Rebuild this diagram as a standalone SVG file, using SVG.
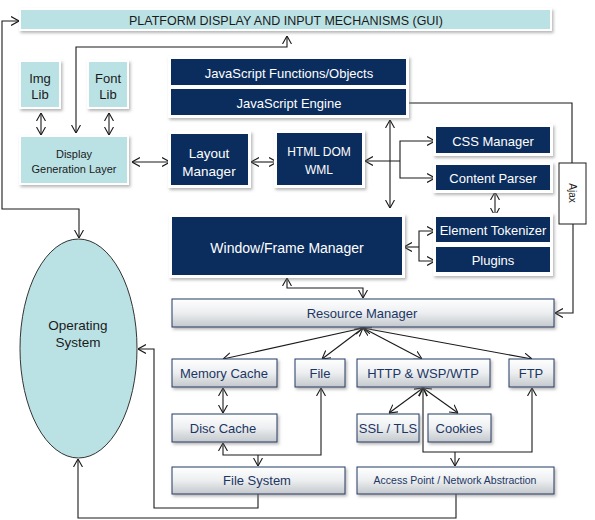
<svg xmlns="http://www.w3.org/2000/svg" width="595" height="520" viewBox="0 0 595 520">
<style>
.t{font-family:"Liberation Sans",Arial,sans-serif;text-anchor:middle;dominant-baseline:central}
.w{fill:#ffffff}
.k{fill:#1a1a1a}
.n{fill:#1c3664}
.frame{fill:#ffffff;filter:url(#sh)}
.dark{fill:#0b2d5e}
.teal{fill:#bae2e5}
.grey{fill:url(#gg);stroke:#1f3a66;stroke-width:1;filter:url(#sh)}
.c{fill:none;stroke:#1a1a1a;stroke-width:1.1}
.ab{marker-start:url(#a);marker-end:url(#a)}
.ae{marker-end:url(#a)}
.as{marker-start:url(#a)}
</style>
<defs>
<filter id="sh" x="-20%" y="-20%" width="140%" height="150%">
<feDropShadow dx="1.5" dy="2" stdDeviation="1.5" flood-color="#7a7a7a" flood-opacity="0.55"/>
</filter>
<linearGradient id="gg" x1="0" y1="0" x2="0" y2="1">
<stop offset="0" stop-color="#ffffff"/>
<stop offset="0.5" stop-color="#eceef0"/>
<stop offset="1" stop-color="#c4c8cc"/>
</linearGradient>
<marker id="a" viewBox="0 0 8 10" refX="8" refY="5" markerWidth="8" markerHeight="10" markerUnits="userSpaceOnUse" orient="auto-start-reverse">
<path d="M0,0.5 L8,5 L0,9.5" fill="none" stroke="#1a1a1a" stroke-width="1.1"/>
</marker>
</defs>
<rect width="595" height="520" fill="#ffffff"/>

<g id="connectors">
<path class="c ab" d="M19,21 H2 V209 H79 V238"/>
<path class="c ab" d="M76,133 V47 H287 V36"/>
<path class="c ab" d="M41,113 V135"/>
<path class="c ab" d="M109,113 V135"/>
<path class="c ab" d="M132,162 H170"/>
<path class="c ab" d="M251,162 H277"/>
<path class="c ab" d="M390,120 V208"/>
<path class="c as" d="M365,161 H400"/>
<path class="c ab" d="M435,141 H400 V178 H435"/>
<path class="c" d="M408,103 H572 V163"/>
<path class="c ae" d="M573,224 V313 H555"/>
<path class="c ab" d="M495,192 V216"/>
<path class="c as" d="M404,247 H419"/>
<path class="c ab" d="M435,231 H419 V261 H435"/>
<path class="c ab" d="M287,278 V288 H363 V298"/>
<path class="c ab" d="M363,328 L223,359"/>
<path class="c ab" d="M363,328 L322,359"/>
<path class="c ab" d="M363,328 L422,359"/>
<path class="c ab" d="M363,328 L532,359"/>
<path class="c ab" d="M223,388 V413"/>
<path class="c ab" d="M223,443 V455 H321 V388"/>
<path class="c ae" d="M258,455 V466"/>
<path class="c ab" d="M423,388 L389,413"/>
<path class="c ab" d="M423,388 L458,413"/>
<path class="c ab" d="M423,388 V452 H532 V388"/>
<path class="c ae" d="M455,452 V466"/>
<path class="c ae" d="M258,494 V508 H154 V349 H138"/>
<path class="c ae" d="M456,494 V518 H78 V459"/>
</g>

<g id="gui">
<rect class="frame" x="19" y="8" width="533" height="23"/>
<rect class="teal" x="21" y="10" width="529" height="19"/>
<text class="t k" x="286" y="20" font-size="13" textLength="314" lengthAdjust="spacingAndGlyphs">PLATFORM DISPLAY AND INPUT MECHANISMS (GUI)</text>
</g>

<g id="imglib">
<rect class="frame" x="19" y="60" width="42" height="49"/>
<rect class="teal" x="21" y="62" width="38" height="45"/>
<text class="t k" x="40" y="78" font-size="13">Img</text>
<text class="t k" x="40" y="94" font-size="13">Lib</text>
</g>

<g id="fontlib">
<rect class="frame" x="87" y="60" width="42" height="49"/>
<rect class="teal" x="89" y="62" width="38" height="45"/>
<text class="t k" x="108" y="78" font-size="13">Font</text>
<text class="t k" x="108" y="94" font-size="13">Lib</text>
</g>

<g id="displaygen">
<rect class="frame" x="19" y="135" width="110" height="50"/>
<rect class="teal" x="21" y="137" width="106" height="46"/>
<text class="t k" x="74" y="154" font-size="11">Display</text>
<text class="t k" x="74" y="169" font-size="11">Generation Layer</text>
</g>

<g id="js">
<rect class="frame" x="168" y="56" width="241" height="62"/>
<rect class="dark" x="171" y="59" width="235" height="26"/>
<rect class="dark" x="171" y="89" width="235" height="26"/>
<text class="t w" x="289" y="73" font-size="13">JavaScript Functions/Objects</text>
<text class="t w" x="289" y="103" font-size="13">JavaScript Engine</text>
</g>

<g id="layout">
<rect class="frame" x="168" y="131" width="83" height="57"/>
<rect class="dark" x="171" y="134" width="77" height="51"/>
<text class="t w" x="209" y="153" font-size="13.5">Layout</text>
<text class="t w" x="209" y="171" font-size="13.5">Manager</text>
</g>

<g id="htmldom">
<rect class="frame" x="274" y="130" width="91" height="58"/>
<rect class="dark" x="277" y="133" width="85" height="52"/>
<text class="t w" x="319" y="152" font-size="12">HTML DOM</text>
<text class="t w" x="319" y="170" font-size="12">WML</text>
</g>

<g id="css">
<rect class="frame" x="433" y="124" width="120" height="32"/>
<rect class="dark" x="436" y="127" width="114" height="26"/>
<text class="t w" x="493" y="141" font-size="13">CSS Manager</text>
</g>

<g id="parser">
<rect class="frame" x="433" y="162" width="120" height="31"/>
<rect class="dark" x="436" y="165" width="114" height="25"/>
<text class="t w" x="493" y="178" font-size="13">Content Parser</text>
</g>

<g id="ajax">
<rect x="559" y="163" width="27" height="61" fill="#ffffff" stroke="#1a1a1a" stroke-width="1"/>
<text class="t k" x="572" y="193" font-size="10" transform="rotate(90 572 193)">Ajax</text>
</g>

<g id="window">
<rect class="frame" x="169" y="214" width="236" height="64"/>
<rect class="dark" x="172" y="217" width="230" height="58"/>
<text class="t w" x="287" y="248" font-size="14">Window/Frame Manager</text>
</g>

<g id="tokenizer">
<rect class="frame" x="433" y="213" width="120" height="63"/>
<rect class="dark" x="436" y="217" width="114" height="25"/>
<rect class="dark" x="436" y="247" width="114" height="25"/>
<text class="t w" x="493" y="230" font-size="13">Element Tokenizer</text>
<text class="t w" x="493" y="260" font-size="13">Plugins</text>
</g>

<g id="resource">
<rect class="grey" x="172" y="299" width="382" height="28"/>
<text class="t n" x="362" y="313" font-size="13">Resource Manager</text>
</g>

<g id="memcache">
<rect class="grey" x="172" y="359" width="105" height="28"/>
<text class="t n" x="224" y="373" font-size="13">Memory Cache</text>
</g>

<g id="file">
<rect class="grey" x="295" y="359" width="50" height="28"/>
<text class="t n" x="320" y="373" font-size="13">File</text>
</g>

<g id="http">
<rect class="grey" x="357" y="359" width="133" height="28"/>
<text class="t n" x="423" y="373" font-size="13">HTTP &amp; WSP/WTP</text>
</g>

<g id="ftp">
<rect class="grey" x="509" y="359" width="45" height="28"/>
<text class="t n" x="531" y="373" font-size="13">FTP</text>
</g>

<g id="disccache">
<rect class="grey" x="172" y="414" width="105" height="28"/>
<text class="t n" x="223" y="428" font-size="13">Disc Cache</text>
</g>

<g id="ssl">
<rect class="grey" x="357" y="414" width="62" height="28"/>
<text class="t n" x="388" y="428" font-size="13">SSL / TLS</text>
</g>

<g id="cookies">
<rect class="grey" x="428" y="414" width="63" height="28"/>
<text class="t n" x="459" y="428" font-size="13">Cookies</text>
</g>

<g id="filesystem">
<rect class="grey" x="172" y="467" width="173" height="27"/>
<text class="t n" x="257" y="480" font-size="13">File System</text>
</g>

<g id="accesspoint">
<rect class="grey" x="357" y="467" width="197" height="27"/>
<text class="t n" x="455" y="480" font-size="10.5">Access Point / Network Abstraction</text>
</g>

<g id="os">
<ellipse cx="78.5" cy="348.5" rx="58.5" ry="109.5" fill="#bae2e5" stroke="#333333" stroke-width="1"/>
<text class="t k" x="78" y="325" font-size="13.5">Operating</text>
<text class="t k" x="78" y="342" font-size="13.5">System</text>
</g>
</svg>
